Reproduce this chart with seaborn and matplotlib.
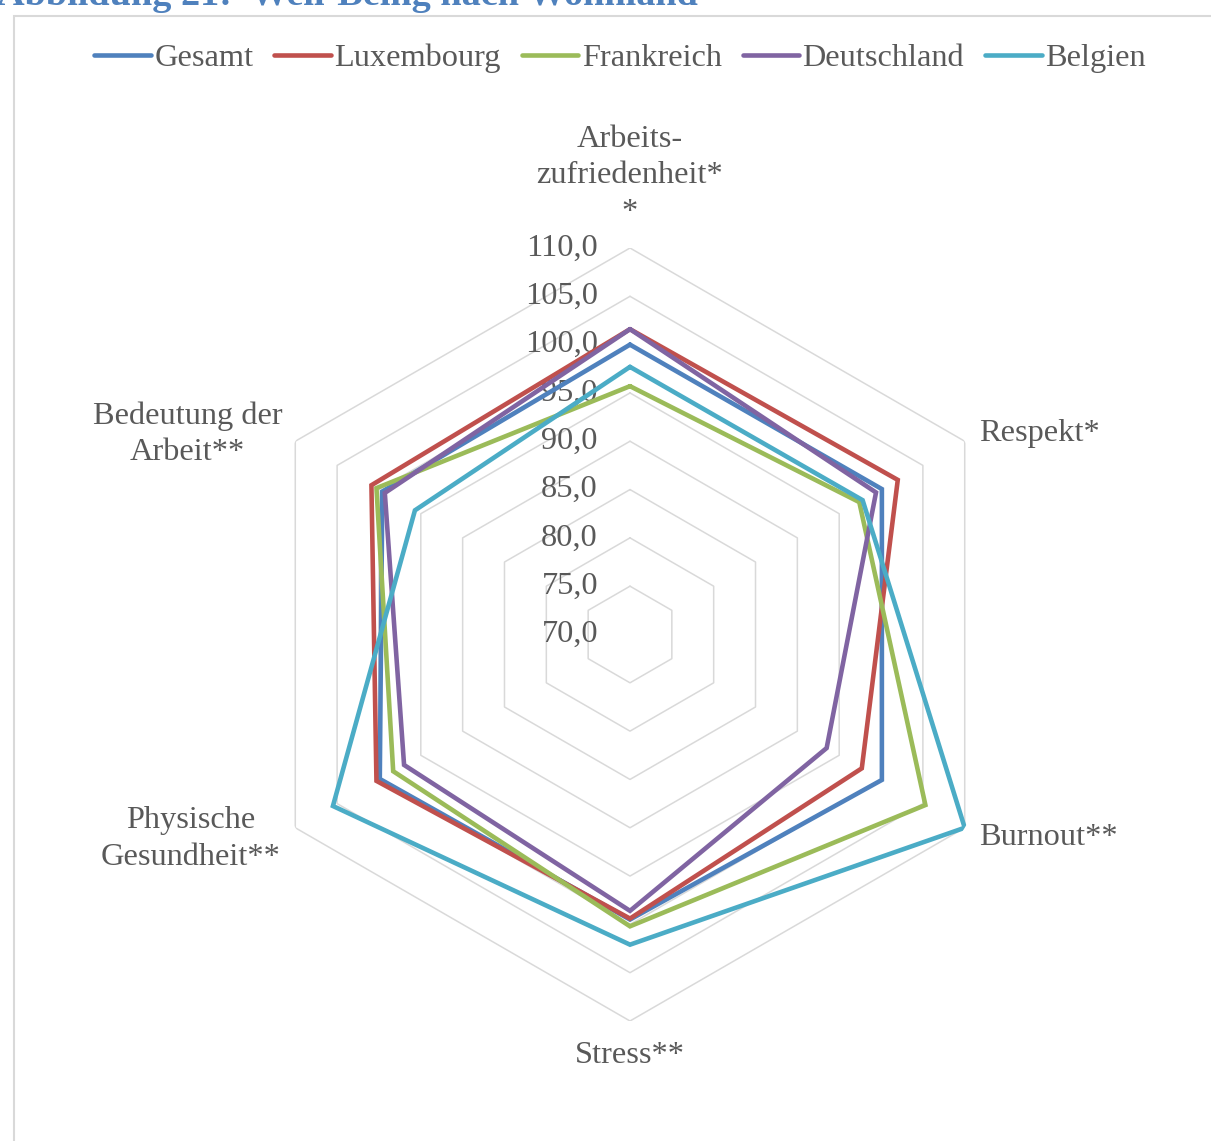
import numpy as np
import matplotlib
matplotlib.use("Agg")
import matplotlib.pyplot as plt
import seaborn as sns
from matplotlib.patches import Rectangle

# Well-being by country of residence (index values)
categories = ["Arbeits-\nzufriedenheit*\n*", "Respekt*", "Burnout**", "Stress**",
              "Physische\nGesundheit**", "Bedeutung der\nArbeit**"]
gesamt = [100.0, 100.1, 100.1, 99.5, 99.9, 99.6]
luxembourg = [101.6, 102.0, 97.7, 99.4, 100.3, 100.9]
frankreich = [95.7, 97.4, 105.3, 100.2, 98.3, 100.3]
deutschland = [101.6, 99.4, 93.5, 98.6, 97.0, 99.3]
belgien = [97.7, 97.8, 110.0, 102.1, 105.5, 95.7]
series_names = ["Gesamt", "Luxembourg", "Frankreich", "Deutschland", "Belgien"]
ring_values = [75, 80, 85, 90, 95, 100, 105, 110]
tick_labels = ["70,0", "75,0", "80,0", "85,0", "90,0", "95,0", "100,0", "105,0", "110,0"]

colors = ["#4F81BD", "#C0504D", "#9BBB59", "#8064A2", "#4BACC6"]
text_gray = "#595959"
fs = 23.3

sns.set_style("white")
plt.rcParams["font.family"] = ["Liberation Serif", "DejaVu Serif"]

fig = plt.figure(figsize=(12.11, 11.41), dpi=100)
W, H = 1211, 1141
cx, cy, R = 630, 634.5, 386.5
ax = fig.add_axes([(cx - R) / W, (H - cy - R) / H, 2 * R / W, 2 * R / H], projection="polar")
ax.set_theta_offset(np.pi / 2)
ax.set_theta_direction(-1)
ax.set_ylim(70, 110)
ax.grid(False)
ax.spines["polar"].set_visible(False)
ax.set_xticks([])
ax.set_yticks([])
ax.patch.set_alpha(0)

n = len(categories)
angles = np.linspace(0, 2 * np.pi, n, endpoint=False)
closed = np.append(angles, angles[0])

# hexagonal grid rings
for rv in ring_values:
    ax.plot(closed, [rv] * (n + 1), color="#D9D9D9", lw=1.1, zorder=1)

all_series = [gesamt, luxembourg, frankreich, deutschland, belgien]
for name, vals, c in zip(series_names, all_series, colors):
    ax.plot(closed, vals + vals[:1], color=c, lw=3.3, label=name, zorder=3,
            solid_joinstyle="miter")

# radial tick labels along the top axis
for i, lab in enumerate(tick_labels):
    ax.annotate(lab, xy=(0, 70 + 5 * i), xytext=(-32, 0), textcoords="offset pixels",
                ha="right", va="center", fontsize=fs, color=text_gray, zorder=2)

# category labels
offsets = [(0, 21, "center", "bottom"), (14, 8, "left", "center"), (14, -10, "left", "center"),
           (0, -20, "center", "top"), (-15, -11, "right", "center"), (-13, 7, "right", "center")]
for ang, lab, (dx, dy, ha, va) in zip(angles, categories, offsets):
    ax.annotate(lab, xy=(ang, 110), xytext=(dx, dy), textcoords="offset pixels",
                ha=ha, va=va, multialignment="center", fontsize=fs,
                color=text_gray, linespacing=1.35, annotation_clip=False)

# legend
handles, labels = ax.get_legend_handles_labels()
fig.legend(handles, labels, loc="center", bbox_to_anchor=(620 / W, 1 - 58 / H), ncol=5,
           frameon=False, fontsize=fs, handlelength=1.75, handletextpad=0.1,
           columnspacing=0.65, labelcolor=text_gray)

# chart frame and (cropped) caption
fig.patches.append(Rectangle((14 / W, -0.01), 1.1, 1 - 16 / H + 0.01, transform=fig.transFigure,
                             fill=False, edgecolor="#D9D9D9", lw=1.5))
fig.text(-3 / W, 1 - 5 / H, "Abbildung 21:  Well-Being nach Wohnland", ha="left",
         va="baseline", fontsize=27.5, fontweight="bold", color="#4F81BD")

fig.savefig("out.png", dpi=100)
